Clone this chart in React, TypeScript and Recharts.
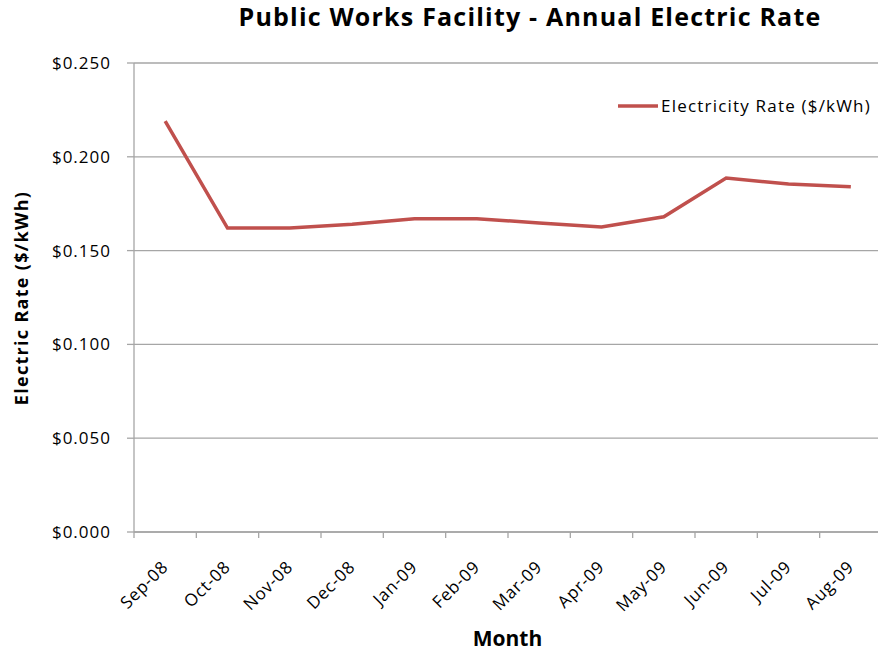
import { CartesianGrid, Line, LineChart, XAxis, YAxis } from 'recharts';

const months = ['Sep-08', 'Oct-08', 'Nov-08', 'Dec-08', 'Jan-09', 'Feb-09', 'Mar-09', 'Apr-09', 'May-09', 'Jun-09', 'Jul-09', 'Aug-09'];
const rates = [0.219, 0.162, 0.162, 0.164, 0.167, 0.167, 0.1647, 0.1626, 0.168, 0.1887, 0.1855, 0.184];
const yTicks = [0, 0.05, 0.1, 0.15, 0.2, 0.25];

const data = months.map((m, i) => ({ month: m, rate: rates[i] }));

const FONT = '"Open Sans", sans-serif';
const RED = '#C0504D';
const GRID = '#A6A6A6';
const HALF_BAND = 31.17;

// label at the category centre, tick mark at the category's left boundary
function MonthTick({ x, y, payload }: any) {
  const lx = x + 4;
  const ly = y + 30;
  return (
    <g>
      <line x1={x - HALF_BAND} y1={y - 6} x2={x - HALF_BAND} y2={y} stroke={GRID} strokeWidth={1.3} />
      <text
        x={lx}
        y={ly}
        transform={`rotate(-45 ${lx} ${ly})`}
        textAnchor="end"
        fontFamily={FONT}
        fontSize={17}
        letterSpacing={0.8}
        fill="#000"
      >
        {payload.value}
      </text>
    </g>
  );
}

export default function App() {
  return (
    <div style={{ position: 'absolute', left: 0, top: 0, width: 878, height: 654, overflow: 'hidden', background: '#fff', fontFamily: FONT }}>
      <div style={{ position: 'absolute', left: 0, top: -1, width: 1060, textAlign: 'center', fontWeight: 700, fontSize: 25, letterSpacing: 1.2, whiteSpace: 'nowrap' }}>
        Public Works Facility - Annual Electric Rate
      </div>
      <div
        style={{
          position: 'absolute',
          left: 21,
          top: 298,
          transform: 'translate(-50%, -50%) rotate(-90deg)',
          whiteSpace: 'nowrap',
          fontWeight: 700,
          fontSize: 18,
          letterSpacing: 1.3,
        }}
      >
        Electric Rate ($/kWh)
      </div>
      <div style={{ position: 'absolute', left: 0, top: 624, width: 1015, textAlign: 'center', fontWeight: 700, fontSize: 21 }}>
        Month
      </div>
      <div style={{ position: 'absolute', left: 618, top: 94, display: 'flex', alignItems: 'center', fontSize: 17, letterSpacing: 1.2, whiteSpace: 'nowrap' }}>
        <svg width={40} height={6} style={{ marginRight: 3 }}>
          <line x1={0} y1={3} x2={40} y2={3} stroke={RED} strokeWidth={3.5} />
        </svg>
        <span>Electricity Rate ($/kWh)</span>
      </div>
      <LineChart width={882} height={654} data={data} margin={{ top: 63, right: 0, bottom: 0, left: 0 }}>
        <CartesianGrid horizontal vertical={false} stroke={GRID} strokeWidth={1.3} />
        <XAxis
          dataKey="month"
          height={122}
          padding={{ left: HALF_BAND, right: HALF_BAND }}
          tick={<MonthTick />}
          tickLine={false}
          tickSize={6}
          tickMargin={0}
          interval={0}
          stroke={GRID}
          strokeWidth={1.3}
        />
        <YAxis
          domain={[0, 0.25]}
          ticks={yTicks}
          width={134}
          tickSize={7}
          tickMargin={16}
          stroke={GRID}
          strokeWidth={1.3}
          tickLine={{ stroke: GRID }}
          tickFormatter={(v: number) => `$${v.toFixed(3)}`}
          tick={{ fill: '#000', fontSize: 17, fontFamily: FONT, letterSpacing: 1 }}
        />
        <Line
          type="linear"
          dataKey="rate"
          stroke={RED}
          strokeWidth={3.5}
          dot={false}
          isAnimationActive={false}
        />
      </LineChart>
    </div>
  );
}
